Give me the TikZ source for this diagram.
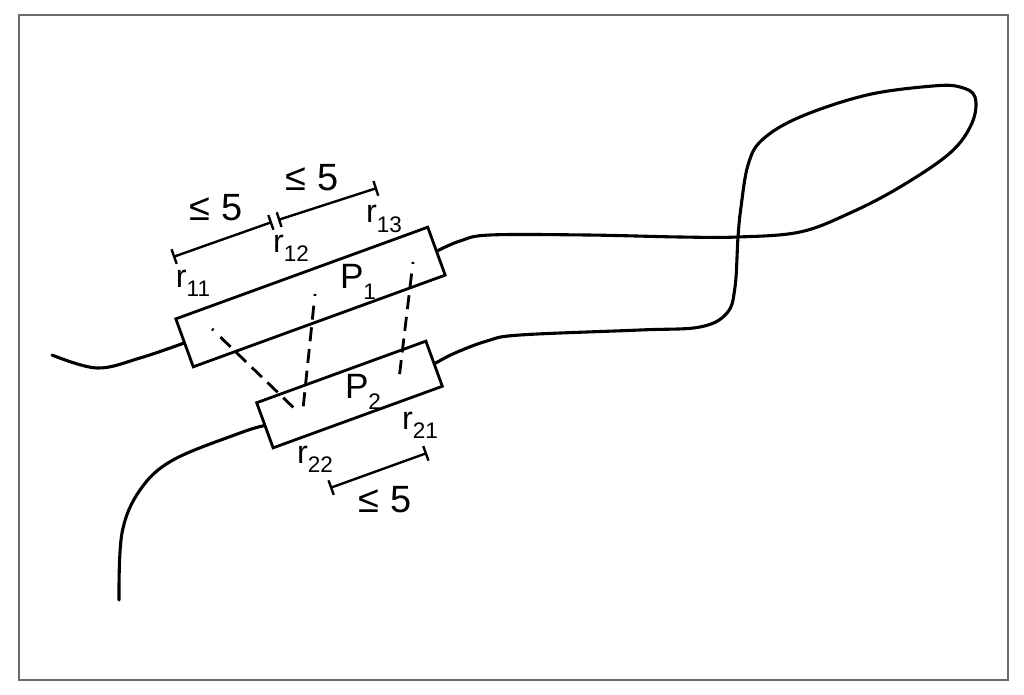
\documentclass[tikz,border=0pt]{standalone}
\usepackage{fontspec}
\setmainfont{Liberation Sans}
\usetikzlibrary{arrows.meta}
\newcommand\subn[1]{\raisebox{-0.55ex}{\fontsize{16}{17}\selectfont #1}}
\tikzset{
  strand/.style={line width=2.2pt, line cap=round, line join=round},
  segbox/.style={draw, line width=2pt, inner sep=0pt, rotate=20},
  dimbar/.style={line width=1.7pt, {Bar[width=11pt,line width=1.7pt]}-{Bar[width=11pt,line width=1.7pt]}},
  link/.style={line width=2pt, dash pattern={on 1.3pt off 7pt on 10pt off 5.5pt on 10pt off 5.5pt on 10pt off 5.5pt on 10pt off 5.5pt on 10pt off 5.5pt on 10pt off 5.5pt on 10pt off 5.5pt}},
  rlab/.style={font=\fontsize{23}{25}\selectfont, inner sep=0pt},
  plab/.style={font=\fontsize{25}{27}\selectfont, inner sep=0pt},
  dlab/.style={font=\fontsize{27}{29}\selectfont, inner sep=0pt},
  frame/.style={draw=black!58, line width=1.4pt}
}
\begin{document}
\begin{tikzpicture}[x=0.025cm, y=-0.025cm]
\useasboundingbox (0,0) rectangle (1024,695);
\draw[frame] (19,15) rectangle (1008,680);

% segment boxes
\node[segbox, minimum width=6.7cm, minimum height=1.275cm] (p1) at (310.5,297) {};
\node[segbox, minimum width=4.5cm, minimum height=1.2cm] (p2) at (349.5,394.5) {};
\node[plab] (p1lab) at (358,282) {P\subn{1}};
\node[plab] (p2lab) at (363,392) {P\subn{2}};

% strands
\draw[strand] plot[smooth, tension=0.6] coordinates {(52,355) (97,368) (140,358) (p1.west)};
\draw[strand] plot[smooth, tension=0.6] coordinates {(p1.east) (460,241) (490,235) (587,235) (680,237) (738,237) (800,232) (850,213) (900,187) (950,153) (972,123) (975,97) (960,87) (933,86) (867,95) (800,117) (762,140) (748,165) (741,207) (738,237) (735,287) (727,313) (700,327) (640,330) (520,335) (487,341) (455,353) (p2.east)};
\draw[strand] plot[smooth, tension=0.6] coordinates {(p2.west) (240,433) (173,460) (140,490) (122,533) (119,600)};

% dimension bars
\coordinate (a1) at (173,257);
\coordinate (a2) at (272,222);
\coordinate (b1) at (278,220);
\coordinate (b2) at (377,188);
\coordinate (c1) at (330,488);
\coordinate (c2) at (427,453);
\draw[dimbar] (a1) -- (a2);
\draw[dimbar] (b1) -- (b2);
\draw[dimbar] (c1) -- (c2);
\node[dlab] (d1) at (216,208) {≤ 5};
\node[dlab] (d2) at (312,178) {≤ 5};
\node[dlab] (d3) at (385,500) {≤ 5};

% residue labels
\node[rlab] (r11) at (193,283) {r\subn{11}};
\node[rlab] (r12) at (291,248) {r\subn{12}};
\node[rlab] (r13) at (384,219) {r\subn{13}};
\node[rlab] (r21) at (420,425) {r\subn{21}};
\node[rlab] (r22) at (315,459) {r\subn{22}};

% contact lines
\coordinate (k1) at (212,329);
\coordinate (k2) at (297,411);
\coordinate (k3) at (315,294);
\coordinate (k4) at (303,409);
\coordinate (k5) at (413,262);
\coordinate (k6) at (399,379);
\draw[link] (k1) -- (k2);
\draw[link] (k3) -- (k4);
\draw[link] (k5) -- (k6);
\end{tikzpicture}
\end{document}
